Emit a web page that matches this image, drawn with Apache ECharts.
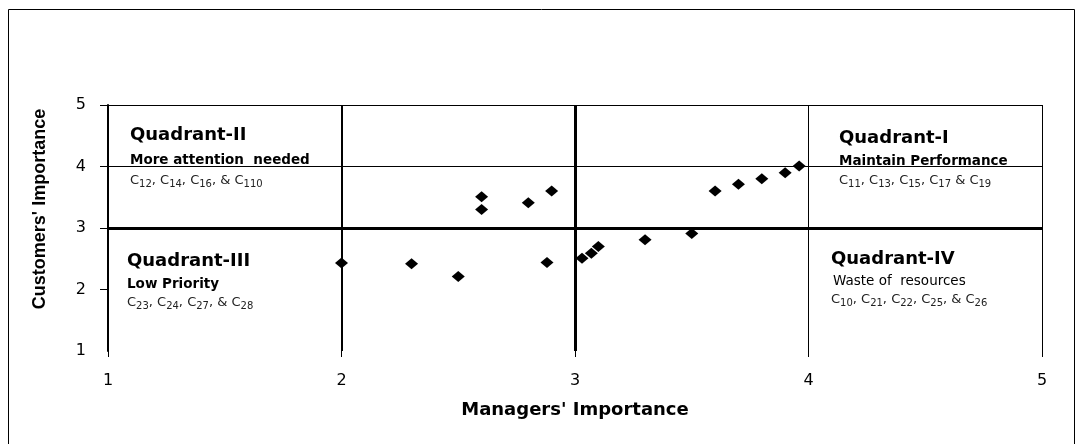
<!DOCTYPE html>
<html>
<head>
<meta charset="utf-8">
<script src="https://cdn.jsdelivr.net/npm/echarts@6/dist/echarts.min.js"></script>
<style>
html,body{margin:0;padding:0;background:#fff}
#chart{width:1078px;height:444px}
</style>
</head>
<body>
<div id="chart"></div>
<script>
// managers' importance (x) and customers' importance (y) per criterion
const managers  = [2.00, 2.30, 2.50, 2.60, 2.60, 2.80, 2.90, 2.88, 3.03, 3.07, 3.10, 3.30, 3.50, 3.60, 3.70, 3.80, 3.90, 3.96];
const customers = [2.43, 2.42, 2.21, 3.51, 3.30, 3.41, 3.60, 2.44, 2.51, 2.59, 2.70, 2.81, 2.91, 3.60, 3.71, 3.80, 3.90, 4.01];
const axisTicks = [1, 2, 3, 4, 5];

// quadrant texts: I, II, III, IV
const quadTitles = ['Quadrant-I', 'Quadrant-II', 'Quadrant-III', 'Quadrant-IV'];
const quadNotes  = ['Maintain Performance', 'More attention  needed', 'Low Priority', 'Waste of  resources'];
const quadItems  = [['11', '13', '15', '17', '19'], ['12', '14', '16', '110'], ['23', '24', '27', '28'], ['10', '21', '22', '25', '26']];

// "C11, C13 ... & C19" as rich text with subscripts
function itemsText(items, commaBeforeAnd) {
  let s = '';
  items.forEach((it, i) => {
    if (i > 0) {
      if (i === items.length - 1) s += commaBeforeAnd ? '{c|, & }' : '{c| & }';
      else s += '{c|, }';
    }
    s += '{c|C}{s|' + it + '}';
  });
  return s;
}

const listRich = {
  c: { fontFamily: 'DejaVu Sans', fontSize: 13, lineHeight: 16, fill: '#222' },
  s: { fontFamily: 'DejaVu Sans', fontSize: 10, lineHeight: 9, verticalAlign: 'bottom', fill: '#222' }
};

// left, title y, note y, list y, note weight
const quadPlace = [
  [839, 138, 161, 181, 'bold'],
  [130, 135, 160, 181, 'bold'],
  [127, 261, 284, 303, 'bold'],
  [831, 259, 281, 300, 'normal']
];

function txt(x, y, text, font, extra) {
  return {
    type: 'text', x: x, y: y, silent: true,
    style: Object.assign({ text: text, font: font, fill: '#000', align: 'left', verticalAlign: 'middle' }, extra || {})
  };
}

const graphics = [
  { type: 'rect', z: -10, silent: true, shape: { x: 8.5, y: 9.5, width: 1066, height: 445 }, style: { fill: 'none', stroke: '#000', lineWidth: 1 } },
  { type: 'text', x: 40, y: 209, rotation: Math.PI / 2, silent: true,
    style: { text: "Customers' Importance", font: 'bold 18px "Liberation Sans"', fill: '#000', align: 'center', verticalAlign: 'middle' } }
];
quadTitles.forEach((t, i) => {
  const p = quadPlace[i];
  graphics.push(txt(p[0], p[1], t, 'bold 18px "DejaVu Sans"'));
  graphics.push(txt(p[0] + (i === 3 ? 2 : 0), p[2], quadNotes[i], p[4] + ' 13.5px "DejaVu Sans"'));
  graphics.push(txt(p[0], p[3], itemsText(quadItems[i], i !== 0), '13px "DejaVu Sans"', { rich: listRich }));
});

const chart = echarts.init(document.getElementById('chart'));
chart.setOption({
  animation: false,
  grid: { left: 108, right: 36, top: 105, bottom: 93 },
  xAxis: {
    type: 'value', min: axisTicks[0], max: axisTicks[axisTicks.length - 1], interval: 1,
    name: "Managers' Importance", nameLocation: 'middle', nameGap: 50,
    nameTextStyle: { fontFamily: 'DejaVu Sans', fontWeight: 'bold', fontSize: 18, color: '#000' },
    axisLine: { show: true, onZero: false, lineStyle: { color: 'rgba(0,0,0,0)' } },
    axisTick: { show: true, length: 6, lineStyle: { color: '#000', width: 1 } },
    axisLabel: { margin: 22, fontFamily: 'DejaVu Sans', fontSize: 16, color: '#000' },
    splitLine: { show: true, lineStyle: { color: '#000', width: 1 } }
  },
  yAxis: {
    type: 'value', min: axisTicks[0], max: axisTicks[axisTicks.length - 1], interval: 1,
    axisLine: { show: true, onZero: false, lineStyle: { color: '#000', width: 2 } },
    axisTick: { show: true, length: 8, customValues: axisTicks.slice(1), lineStyle: { color: '#000', width: 1 } },
    axisLabel: { margin: 22, fontFamily: 'DejaVu Sans', fontSize: 16, color: '#000' },
    splitLine: { show: true, showMinLine: false, lineStyle: { color: '#000', width: 1 } }
  },
  graphic: graphics,
  series: [{
    type: 'scatter',
    data: managers.map((m, i) => [m, customers[i]]),
    symbol: 'diamond',
    symbolSize: [13, 11],
    itemStyle: { color: '#000', opacity: 1 },
    markLine: {
      silent: true,
      symbol: ['none', 'none'],
      label: { show: false },
      lineStyle: { color: '#000', type: 'solid', opacity: 1 },
      data: [
        { xAxis: 2, lineStyle: { width: 2 } },
        { xAxis: 3, lineStyle: { width: 3 } },
        { yAxis: 3, lineStyle: { width: 3 } }
      ]
    }
  }]
});
</script>
</body>
</html>
